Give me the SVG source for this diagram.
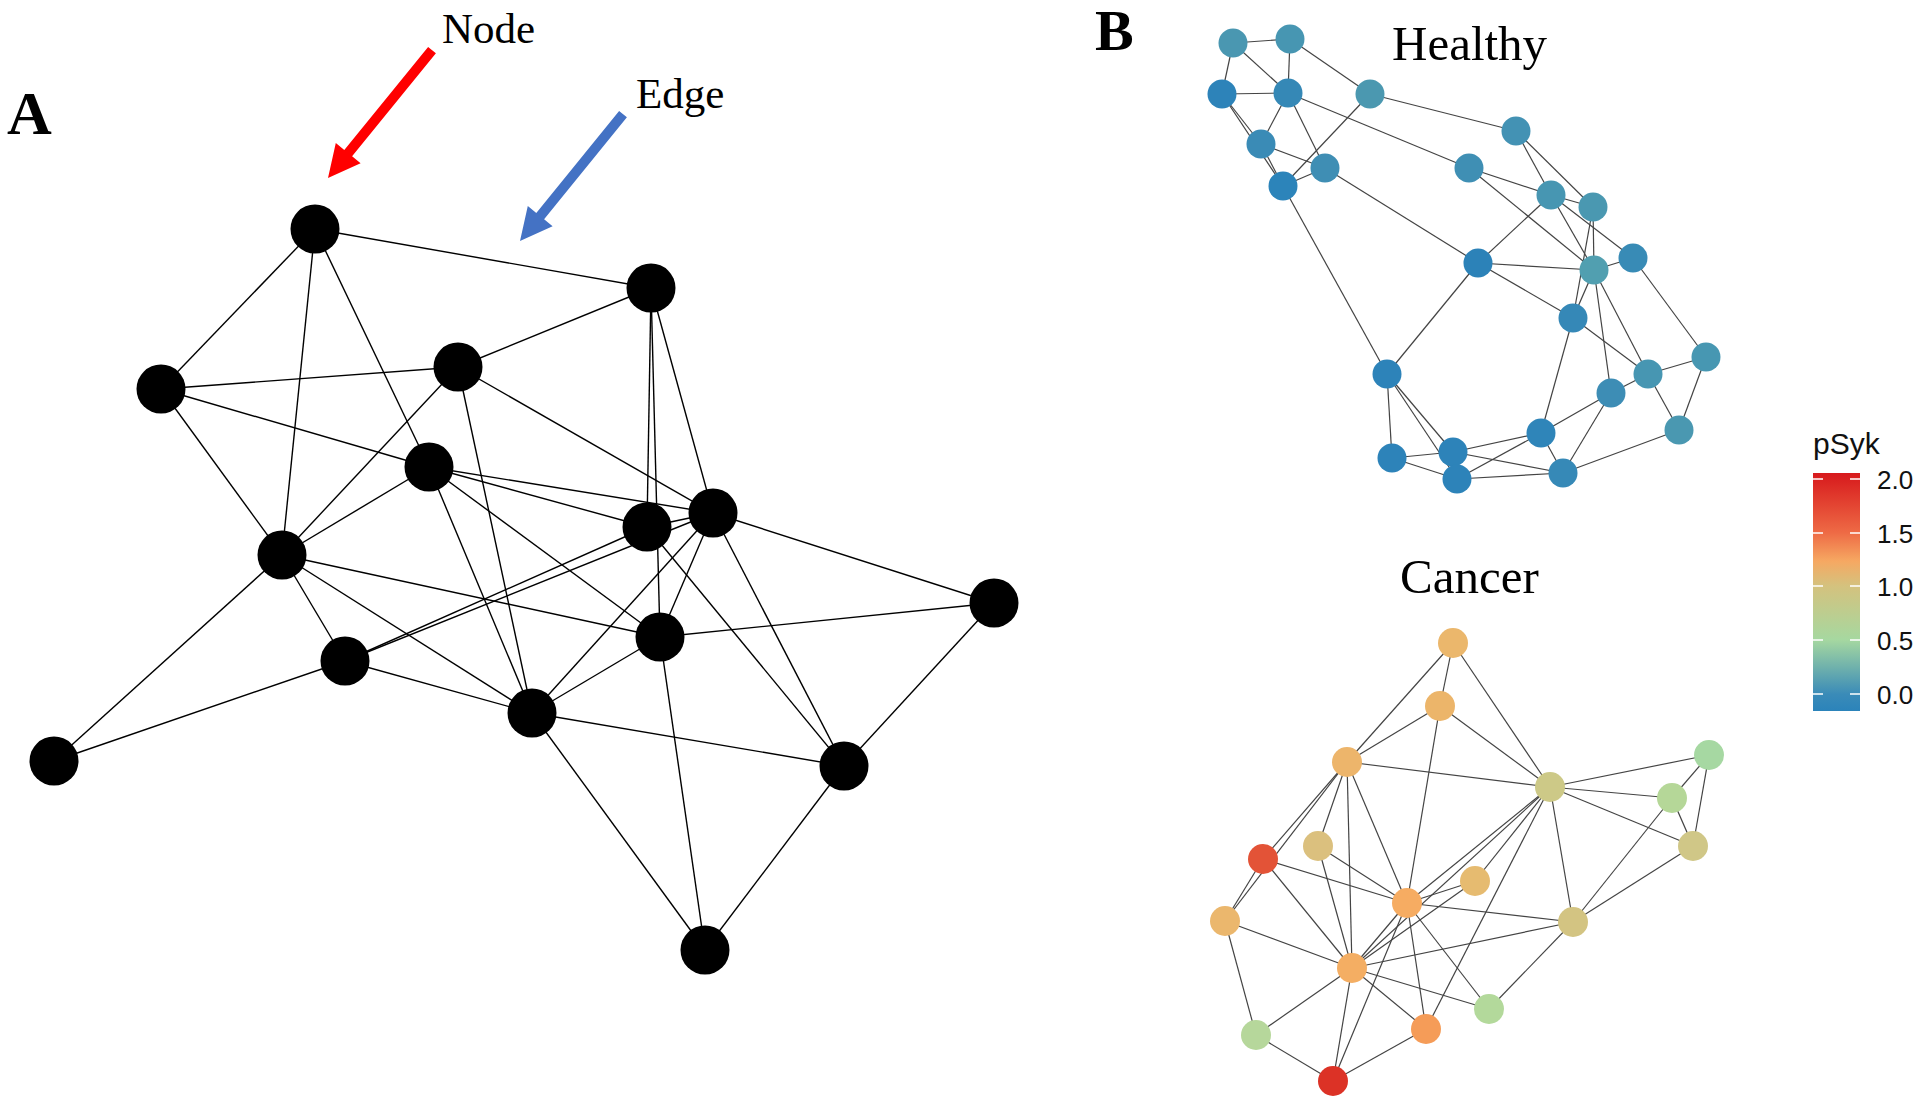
<svg xmlns="http://www.w3.org/2000/svg" width="1920" height="1105" viewBox="0 0 1920 1105">
<style>
.bg{fill:#ffffff}
.ea line{stroke:#000;stroke-width:1.4}
.eb line{stroke:#444;stroke-width:1.2}
.na{fill:#000}
.serif{font-family:"Liberation Serif","Times New Roman",serif;fill:#000}
.sans{font-family:"Liberation Sans",Arial,sans-serif;fill:#111}
.tick{stroke:#fff;stroke-width:1.5}
</style>
<defs>
<linearGradient id="psyk" x1="0" y1="0" x2="0" y2="1">
<stop offset="0" stop-color="#d7191c"/>
<stop offset="0.25" stop-color="#ee6a45"/>
<stop offset="0.37" stop-color="#f6a862"/>
<stop offset="0.475" stop-color="#d4c27e"/>
<stop offset="0.70" stop-color="#a6d8a0"/>
<stop offset="0.93" stop-color="#3a8bb8"/>
<stop offset="1" stop-color="#2b83ba"/>
</linearGradient>
</defs>
<rect class="bg" x="0" y="0" width="1920" height="1105"/>

<!-- Panel labels -->
<text class="serif" x="7" y="134" font-size="62" font-weight="bold">A</text>
<text class="serif" x="1095" y="50" font-size="58" font-weight="bold">B</text>
<text class="serif" x="442" y="43" font-size="43">Node</text>
<text class="serif" x="636" y="108" font-size="43">Edge</text>
<text class="serif" x="1392" y="60" font-size="49">Healthy</text>
<text class="serif" x="1400" y="593" font-size="49">Cancer</text>

<!-- Annotation arrows -->
<g id="arrow-node">
<polygon fill="#ff0000" points="435.9,53.2 352.1,156.3 360.6,163.3 328,178 335.8,143.1 344.3,150.0 428.1,46.9"/>
</g>
<g id="arrow-edge">
<polygon fill="#4472c4" points="626.9,117.2 544.1,219.3 552.6,226.2 520,241 527.8,206.0 536.3,212.9 619.1,110.9"/>
</g>

<!-- Panel A edges -->
<g id="edges-a" class="ea">
<line x1="315" y1="229" x2="651" y2="288"/>
<line x1="315" y1="229" x2="161" y2="389"/>
<line x1="315" y1="229" x2="282" y2="555"/>
<line x1="315" y1="229" x2="429" y2="467"/>
<line x1="651" y1="288" x2="458" y2="367"/>
<line x1="651" y1="288" x2="647" y2="527"/>
<line x1="651" y1="288" x2="660" y2="637"/>
<line x1="651" y1="288" x2="713" y2="513"/>
<line x1="161" y1="389" x2="458" y2="367"/>
<line x1="161" y1="389" x2="429" y2="467"/>
<line x1="161" y1="389" x2="282" y2="555"/>
<line x1="458" y1="367" x2="282" y2="555"/>
<line x1="458" y1="367" x2="532" y2="713"/>
<line x1="458" y1="367" x2="713" y2="513"/>
<line x1="429" y1="467" x2="282" y2="555"/>
<line x1="429" y1="467" x2="713" y2="513"/>
<line x1="429" y1="467" x2="647" y2="527"/>
<line x1="429" y1="467" x2="660" y2="637"/>
<line x1="429" y1="467" x2="532" y2="713"/>
<line x1="647" y1="527" x2="713" y2="513"/>
<line x1="647" y1="527" x2="844" y2="766"/>
<line x1="647" y1="527" x2="345" y2="661"/>
<line x1="713" y1="513" x2="345" y2="661"/>
<line x1="713" y1="513" x2="994" y2="603"/>
<line x1="713" y1="513" x2="844" y2="766"/>
<line x1="713" y1="513" x2="660" y2="637"/>
<line x1="713" y1="513" x2="532" y2="713"/>
<line x1="282" y1="555" x2="660" y2="637"/>
<line x1="282" y1="555" x2="345" y2="661"/>
<line x1="282" y1="555" x2="532" y2="713"/>
<line x1="282" y1="555" x2="54" y2="761"/>
<line x1="994" y1="603" x2="660" y2="637"/>
<line x1="994" y1="603" x2="844" y2="766"/>
<line x1="660" y1="637" x2="532" y2="713"/>
<line x1="660" y1="637" x2="705" y2="950"/>
<line x1="345" y1="661" x2="532" y2="713"/>
<line x1="345" y1="661" x2="54" y2="761"/>
<line x1="532" y1="713" x2="844" y2="766"/>
<line x1="532" y1="713" x2="705" y2="950"/>
<line x1="844" y1="766" x2="705" y2="950"/>
</g>

<!-- Panel A nodes -->
<g id="a-n1"><circle class="na" cx="315" cy="229" r="24.5"/></g>
<g id="a-n2"><circle class="na" cx="651" cy="288" r="24.5"/></g>
<g id="a-n3"><circle class="na" cx="161" cy="389" r="24.5"/></g>
<g id="a-n4"><circle class="na" cx="458" cy="367" r="24.5"/></g>
<g id="a-n5"><circle class="na" cx="429" cy="467" r="24.5"/></g>
<g id="a-n6"><circle class="na" cx="647" cy="527" r="24.5"/></g>
<g id="a-n7"><circle class="na" cx="713" cy="513" r="24.5"/></g>
<g id="a-n8"><circle class="na" cx="282" cy="555" r="24.5"/></g>
<g id="a-n9"><circle class="na" cx="994" cy="603" r="24.5"/></g>
<g id="a-n10"><circle class="na" cx="660" cy="637" r="24.5"/></g>
<g id="a-n11"><circle class="na" cx="345" cy="661" r="24.5"/></g>
<g id="a-n12"><circle class="na" cx="532" cy="713" r="24.5"/></g>
<g id="a-n13"><circle class="na" cx="54" cy="761" r="24.5"/></g>
<g id="a-n14"><circle class="na" cx="844" cy="766" r="24.5"/></g>
<g id="a-n15"><circle class="na" cx="705" cy="950" r="24.5"/></g>

<!-- Healthy edges -->
<g id="edges-healthy" class="eb">
<line x1="1233" y1="43" x2="1290" y2="39"/>
<line x1="1233" y1="43" x2="1222" y2="94"/>
<line x1="1233" y1="43" x2="1288" y2="93"/>
<line x1="1290" y1="39" x2="1288" y2="93"/>
<line x1="1290" y1="39" x2="1370" y2="94"/>
<line x1="1222" y1="94" x2="1288" y2="93"/>
<line x1="1222" y1="94" x2="1261" y2="144"/>
<line x1="1222" y1="94" x2="1283" y2="186"/>
<line x1="1288" y1="93" x2="1261" y2="144"/>
<line x1="1288" y1="93" x2="1325" y2="168"/>
<line x1="1288" y1="93" x2="1469" y2="168"/>
<line x1="1370" y1="94" x2="1283" y2="186"/>
<line x1="1370" y1="94" x2="1516" y2="131"/>
<line x1="1261" y1="144" x2="1325" y2="168"/>
<line x1="1261" y1="144" x2="1283" y2="186"/>
<line x1="1325" y1="168" x2="1283" y2="186"/>
<line x1="1325" y1="168" x2="1478" y2="263"/>
<line x1="1283" y1="186" x2="1387" y2="374"/>
<line x1="1516" y1="131" x2="1551" y2="195"/>
<line x1="1516" y1="131" x2="1593" y2="207"/>
<line x1="1469" y1="168" x2="1551" y2="195"/>
<line x1="1469" y1="168" x2="1594" y2="270"/>
<line x1="1551" y1="195" x2="1593" y2="207"/>
<line x1="1551" y1="195" x2="1478" y2="263"/>
<line x1="1551" y1="195" x2="1594" y2="270"/>
<line x1="1551" y1="195" x2="1633" y2="258"/>
<line x1="1593" y1="207" x2="1594" y2="270"/>
<line x1="1593" y1="207" x2="1573" y2="318"/>
<line x1="1478" y1="263" x2="1594" y2="270"/>
<line x1="1478" y1="263" x2="1573" y2="318"/>
<line x1="1478" y1="263" x2="1387" y2="374"/>
<line x1="1594" y1="270" x2="1633" y2="258"/>
<line x1="1594" y1="270" x2="1573" y2="318"/>
<line x1="1594" y1="270" x2="1611" y2="393"/>
<line x1="1594" y1="270" x2="1648" y2="374"/>
<line x1="1633" y1="258" x2="1706" y2="357"/>
<line x1="1573" y1="318" x2="1648" y2="374"/>
<line x1="1573" y1="318" x2="1541" y2="433"/>
<line x1="1387" y1="374" x2="1392" y2="458"/>
<line x1="1387" y1="374" x2="1453" y2="452"/>
<line x1="1387" y1="374" x2="1457" y2="479"/>
<line x1="1706" y1="357" x2="1648" y2="374"/>
<line x1="1706" y1="357" x2="1679" y2="430"/>
<line x1="1648" y1="374" x2="1611" y2="393"/>
<line x1="1648" y1="374" x2="1679" y2="430"/>
<line x1="1611" y1="393" x2="1541" y2="433"/>
<line x1="1611" y1="393" x2="1563" y2="473"/>
<line x1="1679" y1="430" x2="1563" y2="473"/>
<line x1="1541" y1="433" x2="1453" y2="452"/>
<line x1="1541" y1="433" x2="1457" y2="479"/>
<line x1="1541" y1="433" x2="1563" y2="473"/>
<line x1="1392" y1="458" x2="1453" y2="452"/>
<line x1="1392" y1="458" x2="1457" y2="479"/>
<line x1="1453" y1="452" x2="1563" y2="473"/>
<line x1="1457" y1="479" x2="1563" y2="473"/>
</g>

<!-- Healthy nodes -->
<g id="h-n1"><circle cx="1233" cy="43" r="14.5" fill="#4a97b1"/></g>
<g id="h-n2"><circle cx="1290" cy="39" r="14.5" fill="#4796b2"/></g>
<g id="h-n3"><circle cx="1222" cy="94" r="14.5" fill="#2d83b9"/></g>
<g id="h-n4"><circle cx="1288" cy="93" r="14.5" fill="#3588b6"/></g>
<g id="h-n5"><circle cx="1370" cy="94" r="14.5" fill="#4b98b0"/></g>
<g id="h-n6"><circle cx="1261" cy="144" r="14.5" fill="#3a8bb6"/></g>
<g id="h-n7"><circle cx="1325" cy="168" r="14.5" fill="#3f8eb4"/></g>
<g id="h-n8"><circle cx="1283" cy="186" r="14.5" fill="#2c84ba"/></g>
<g id="h-n9"><circle cx="1516" cy="131" r="14.5" fill="#4392b4"/></g>
<g id="h-n10"><circle cx="1469" cy="168" r="14.5" fill="#3f8fb4"/></g>
<g id="h-n11"><circle cx="1551" cy="195" r="14.5" fill="#4796b2"/></g>
<g id="h-n12"><circle cx="1593" cy="207" r="14.5" fill="#4a98b1"/></g>
<g id="h-n13"><circle cx="1478" cy="263" r="14.5" fill="#2c82b8"/></g>
<g id="h-n14"><circle cx="1594" cy="270" r="14.5" fill="#519fb0"/></g>
<g id="h-n15"><circle cx="1633" cy="258" r="14.5" fill="#388bb6"/></g>
<g id="h-n16"><circle cx="1573" cy="318" r="14.5" fill="#3588b7"/></g>
<g id="h-n17"><circle cx="1387" cy="374" r="14.5" fill="#2d83b9"/></g>
<g id="h-n18"><circle cx="1706" cy="357" r="14.5" fill="#4797b2"/></g>
<g id="h-n19"><circle cx="1648" cy="374" r="14.5" fill="#4796b2"/></g>
<g id="h-n20"><circle cx="1611" cy="393" r="14.5" fill="#3d8db5"/></g>
<g id="h-n21"><circle cx="1679" cy="430" r="14.5" fill="#4a98b1"/></g>
<g id="h-n22"><circle cx="1541" cy="433" r="14.5" fill="#2f85b9"/></g>
<g id="h-n23"><circle cx="1392" cy="458" r="14.5" fill="#2d83b9"/></g>
<g id="h-n24"><circle cx="1453" cy="452" r="14.5" fill="#2d83b9"/></g>
<g id="h-n25"><circle cx="1457" cy="479" r="14.5" fill="#2d83b9"/></g>
<g id="h-n26"><circle cx="1563" cy="473" r="14.5" fill="#3689b7"/></g>

<!-- Cancer edges -->
<g id="edges-cancer" class="eb">
<line x1="1453" y1="643" x2="1440" y2="706"/>
<line x1="1453" y1="643" x2="1347" y2="762"/>
<line x1="1453" y1="643" x2="1550" y2="787"/>
<line x1="1440" y1="706" x2="1347" y2="762"/>
<line x1="1440" y1="706" x2="1550" y2="787"/>
<line x1="1440" y1="706" x2="1407" y2="903"/>
<line x1="1347" y1="762" x2="1550" y2="787"/>
<line x1="1347" y1="762" x2="1263" y2="859"/>
<line x1="1347" y1="762" x2="1225" y2="921"/>
<line x1="1347" y1="762" x2="1318" y2="846"/>
<line x1="1347" y1="762" x2="1352" y2="968"/>
<line x1="1347" y1="762" x2="1407" y2="903"/>
<line x1="1550" y1="787" x2="1709" y2="755"/>
<line x1="1550" y1="787" x2="1672" y2="798"/>
<line x1="1550" y1="787" x2="1693" y2="846"/>
<line x1="1550" y1="787" x2="1407" y2="903"/>
<line x1="1550" y1="787" x2="1475" y2="881"/>
<line x1="1550" y1="787" x2="1426" y2="1029"/>
<line x1="1550" y1="787" x2="1573" y2="922"/>
<line x1="1550" y1="787" x2="1352" y2="968"/>
<line x1="1709" y1="755" x2="1672" y2="798"/>
<line x1="1709" y1="755" x2="1693" y2="846"/>
<line x1="1672" y1="798" x2="1693" y2="846"/>
<line x1="1672" y1="798" x2="1573" y2="922"/>
<line x1="1693" y1="846" x2="1573" y2="922"/>
<line x1="1318" y1="846" x2="1407" y2="903"/>
<line x1="1318" y1="846" x2="1352" y2="968"/>
<line x1="1263" y1="859" x2="1407" y2="903"/>
<line x1="1263" y1="859" x2="1352" y2="968"/>
<line x1="1263" y1="859" x2="1225" y2="921"/>
<line x1="1475" y1="881" x2="1407" y2="903"/>
<line x1="1475" y1="881" x2="1352" y2="968"/>
<line x1="1407" y1="903" x2="1573" y2="922"/>
<line x1="1407" y1="903" x2="1352" y2="968"/>
<line x1="1407" y1="903" x2="1489" y2="1009"/>
<line x1="1407" y1="903" x2="1426" y2="1029"/>
<line x1="1407" y1="903" x2="1333" y2="1081"/>
<line x1="1225" y1="921" x2="1352" y2="968"/>
<line x1="1225" y1="921" x2="1256" y2="1035"/>
<line x1="1573" y1="922" x2="1352" y2="968"/>
<line x1="1573" y1="922" x2="1489" y2="1009"/>
<line x1="1352" y1="968" x2="1489" y2="1009"/>
<line x1="1352" y1="968" x2="1426" y2="1029"/>
<line x1="1352" y1="968" x2="1256" y2="1035"/>
<line x1="1352" y1="968" x2="1333" y2="1081"/>
<line x1="1426" y1="1029" x2="1333" y2="1081"/>
<line x1="1256" y1="1035" x2="1333" y2="1081"/>
</g>

<!-- Cancer nodes -->
<g id="c-n1"><circle cx="1453" cy="643" r="15" fill="#ebb76c"/></g>
<g id="c-n2"><circle cx="1440" cy="706" r="15" fill="#ecb56a"/></g>
<g id="c-n3"><circle cx="1347" cy="762" r="15" fill="#edb56b"/></g>
<g id="c-n4"><circle cx="1550" cy="787" r="15" fill="#cdc987"/></g>
<g id="c-n5"><circle cx="1709" cy="755" r="15" fill="#a6d8a2"/></g>
<g id="c-n6"><circle cx="1672" cy="798" r="15" fill="#b5d798"/></g>
<g id="c-n7"><circle cx="1318" cy="846" r="15" fill="#dbc07e"/></g>
<g id="c-n8"><circle cx="1263" cy="859" r="15" fill="#e35337"/></g>
<g id="c-n9"><circle cx="1693" cy="846" r="15" fill="#d0c787"/></g>
<g id="c-n10"><circle cx="1475" cy="881" r="15" fill="#e6bb70"/></g>
<g id="c-n11"><circle cx="1407" cy="903" r="15" fill="#f6ac62"/></g>
<g id="c-n12"><circle cx="1225" cy="921" r="15" fill="#ebb76d"/></g>
<g id="c-n13"><circle cx="1573" cy="922" r="15" fill="#d3c482"/></g>
<g id="c-n14"><circle cx="1352" cy="968" r="15" fill="#f4ae63"/></g>
<g id="c-n15"><circle cx="1489" cy="1009" r="15" fill="#b3d99b"/></g>
<g id="c-n16"><circle cx="1426" cy="1029" r="15" fill="#f59c58"/></g>
<g id="c-n17"><circle cx="1256" cy="1035" r="15" fill="#b6d79b"/></g>
<g id="c-n18"><circle cx="1333" cy="1081" r="15" fill="#dc3226"/></g>

<!-- Legend -->
<g id="legend">
<text class="sans" x="1813" y="454" font-size="30">pSyk</text>
<rect x="1813" y="473" width="47" height="238" fill="url(#psyk)"/>
<line class="tick" x1="1813" y1="479" x2="1823" y2="479"/><line class="tick" x1="1850" y1="479" x2="1860" y2="479"/>
<line class="tick" x1="1813" y1="533" x2="1823" y2="533"/><line class="tick" x1="1850" y1="533" x2="1860" y2="533"/>
<line class="tick" x1="1813" y1="586" x2="1823" y2="586"/><line class="tick" x1="1850" y1="586" x2="1860" y2="586"/>
<line class="tick" x1="1813" y1="640" x2="1823" y2="640"/><line class="tick" x1="1850" y1="640" x2="1860" y2="640"/>
<line class="tick" x1="1813" y1="694" x2="1823" y2="694"/><line class="tick" x1="1850" y1="694" x2="1860" y2="694"/>
<text class="sans" x="1877" y="489" font-size="26">2.0</text>
<text class="sans" x="1877" y="543" font-size="26">1.5</text>
<text class="sans" x="1877" y="596" font-size="26">1.0</text>
<text class="sans" x="1877" y="650" font-size="26">0.5</text>
<text class="sans" x="1877" y="704" font-size="26">0.0</text>
</g>
</svg>
